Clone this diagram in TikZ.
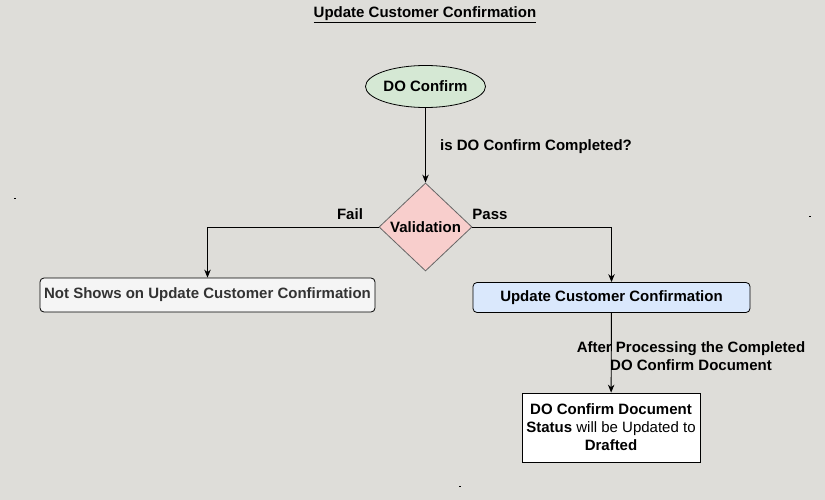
\documentclass[tikz,border=0pt]{standalone}
\usepackage{fontspec}
\setmainfont{Liberation Sans}
\usetikzlibrary{shapes.geometric,arrows.meta}
\definecolor{bg}{RGB}{222,221,217}
\definecolor{greenfill}{HTML}{D5E8D4}
\definecolor{redfill}{HTML}{F8CECC}
\definecolor{bluefill}{HTML}{DAE8FC}
\definecolor{greyfill}{HTML}{F5F5F5}
\definecolor{greytext}{HTML}{333333}
\tikzset{
  base/.style={font=\fontsize{15}{18}\selectfont\bfseries, inner sep=0pt, align=center, line width=0.8pt},
  startnode/.style={base, ellipse, draw=black, fill=greenfill, minimum width=120pt, minimum height=42pt},
  decision/.style={base, diamond, draw=black!60, fill=redfill, minimum width=93pt, minimum height=88pt, aspect=1.06},
  roundbox/.style={base, draw=black, rounded corners=4pt, minimum height=30pt},
  plainbox/.style={base, draw=black, fill=white, minimum width=178pt, minimum height=69pt},
  lbl/.style={font=\fontsize{15}{18}\selectfont\bfseries, inner sep=0pt},
  conn/.style={draw=black, line width=0.9pt, -{Stealth[length=8pt,width=6.5pt]}},
  speck/.style={fill=black, inner sep=0pt, minimum size=1.6pt}
}
\begin{document}
\begin{tikzpicture}[x=1pt,y=-1pt]
\fill[bg] (0,0) rectangle (825,500);
\useasboundingbox (0,0) rectangle (825,500);

\node[lbl] (title) at (425,15) {\underline{Update Customer Confirmation}};

\node[startnode] (start) at (425.5,86.5) {DO Confirm};
\node[decision] (val) at (425.5,227) {Validation};
\node[roundbox, fill=greyfill, text=greytext, minimum width=335pt, minimum height=34pt] (fail) at (207.5,295) {Not Shows on Update Customer Confirmation};
\node[roundbox, fill=bluefill, minimum width=277pt] (upd) at (611.5,297.5) {Update Customer Confirmation};
\node[plainbox] (doc) at (611,427.5) {DO Confirm Document\\\textbf{Status} \mdseries will be Updated to\\Drafted};

\draw[conn] (start) -- (val);
\node[lbl, anchor=west] (q) at (440,146.5) {is DO Confirm Completed?};

\draw[conn] (val.west) -| (fail.north);
\node[lbl] (faillbl) at (350,214) {Fail};

\draw[conn] (val.east) -| (upd.north);
\node[lbl] (passlbl) at (490,214) {Pass};

\draw[conn] (upd) -- (doc);
\node[lbl, align=center] (after) at (691,356) {After Processing the Completed\\DO Confirm Document};

\node[speck] (s1) at (15,198.5) {};
\node[speck] (s2) at (810,216.5) {};
\node[speck] (s3) at (460,486.5) {};
\end{tikzpicture}
\end{document}
